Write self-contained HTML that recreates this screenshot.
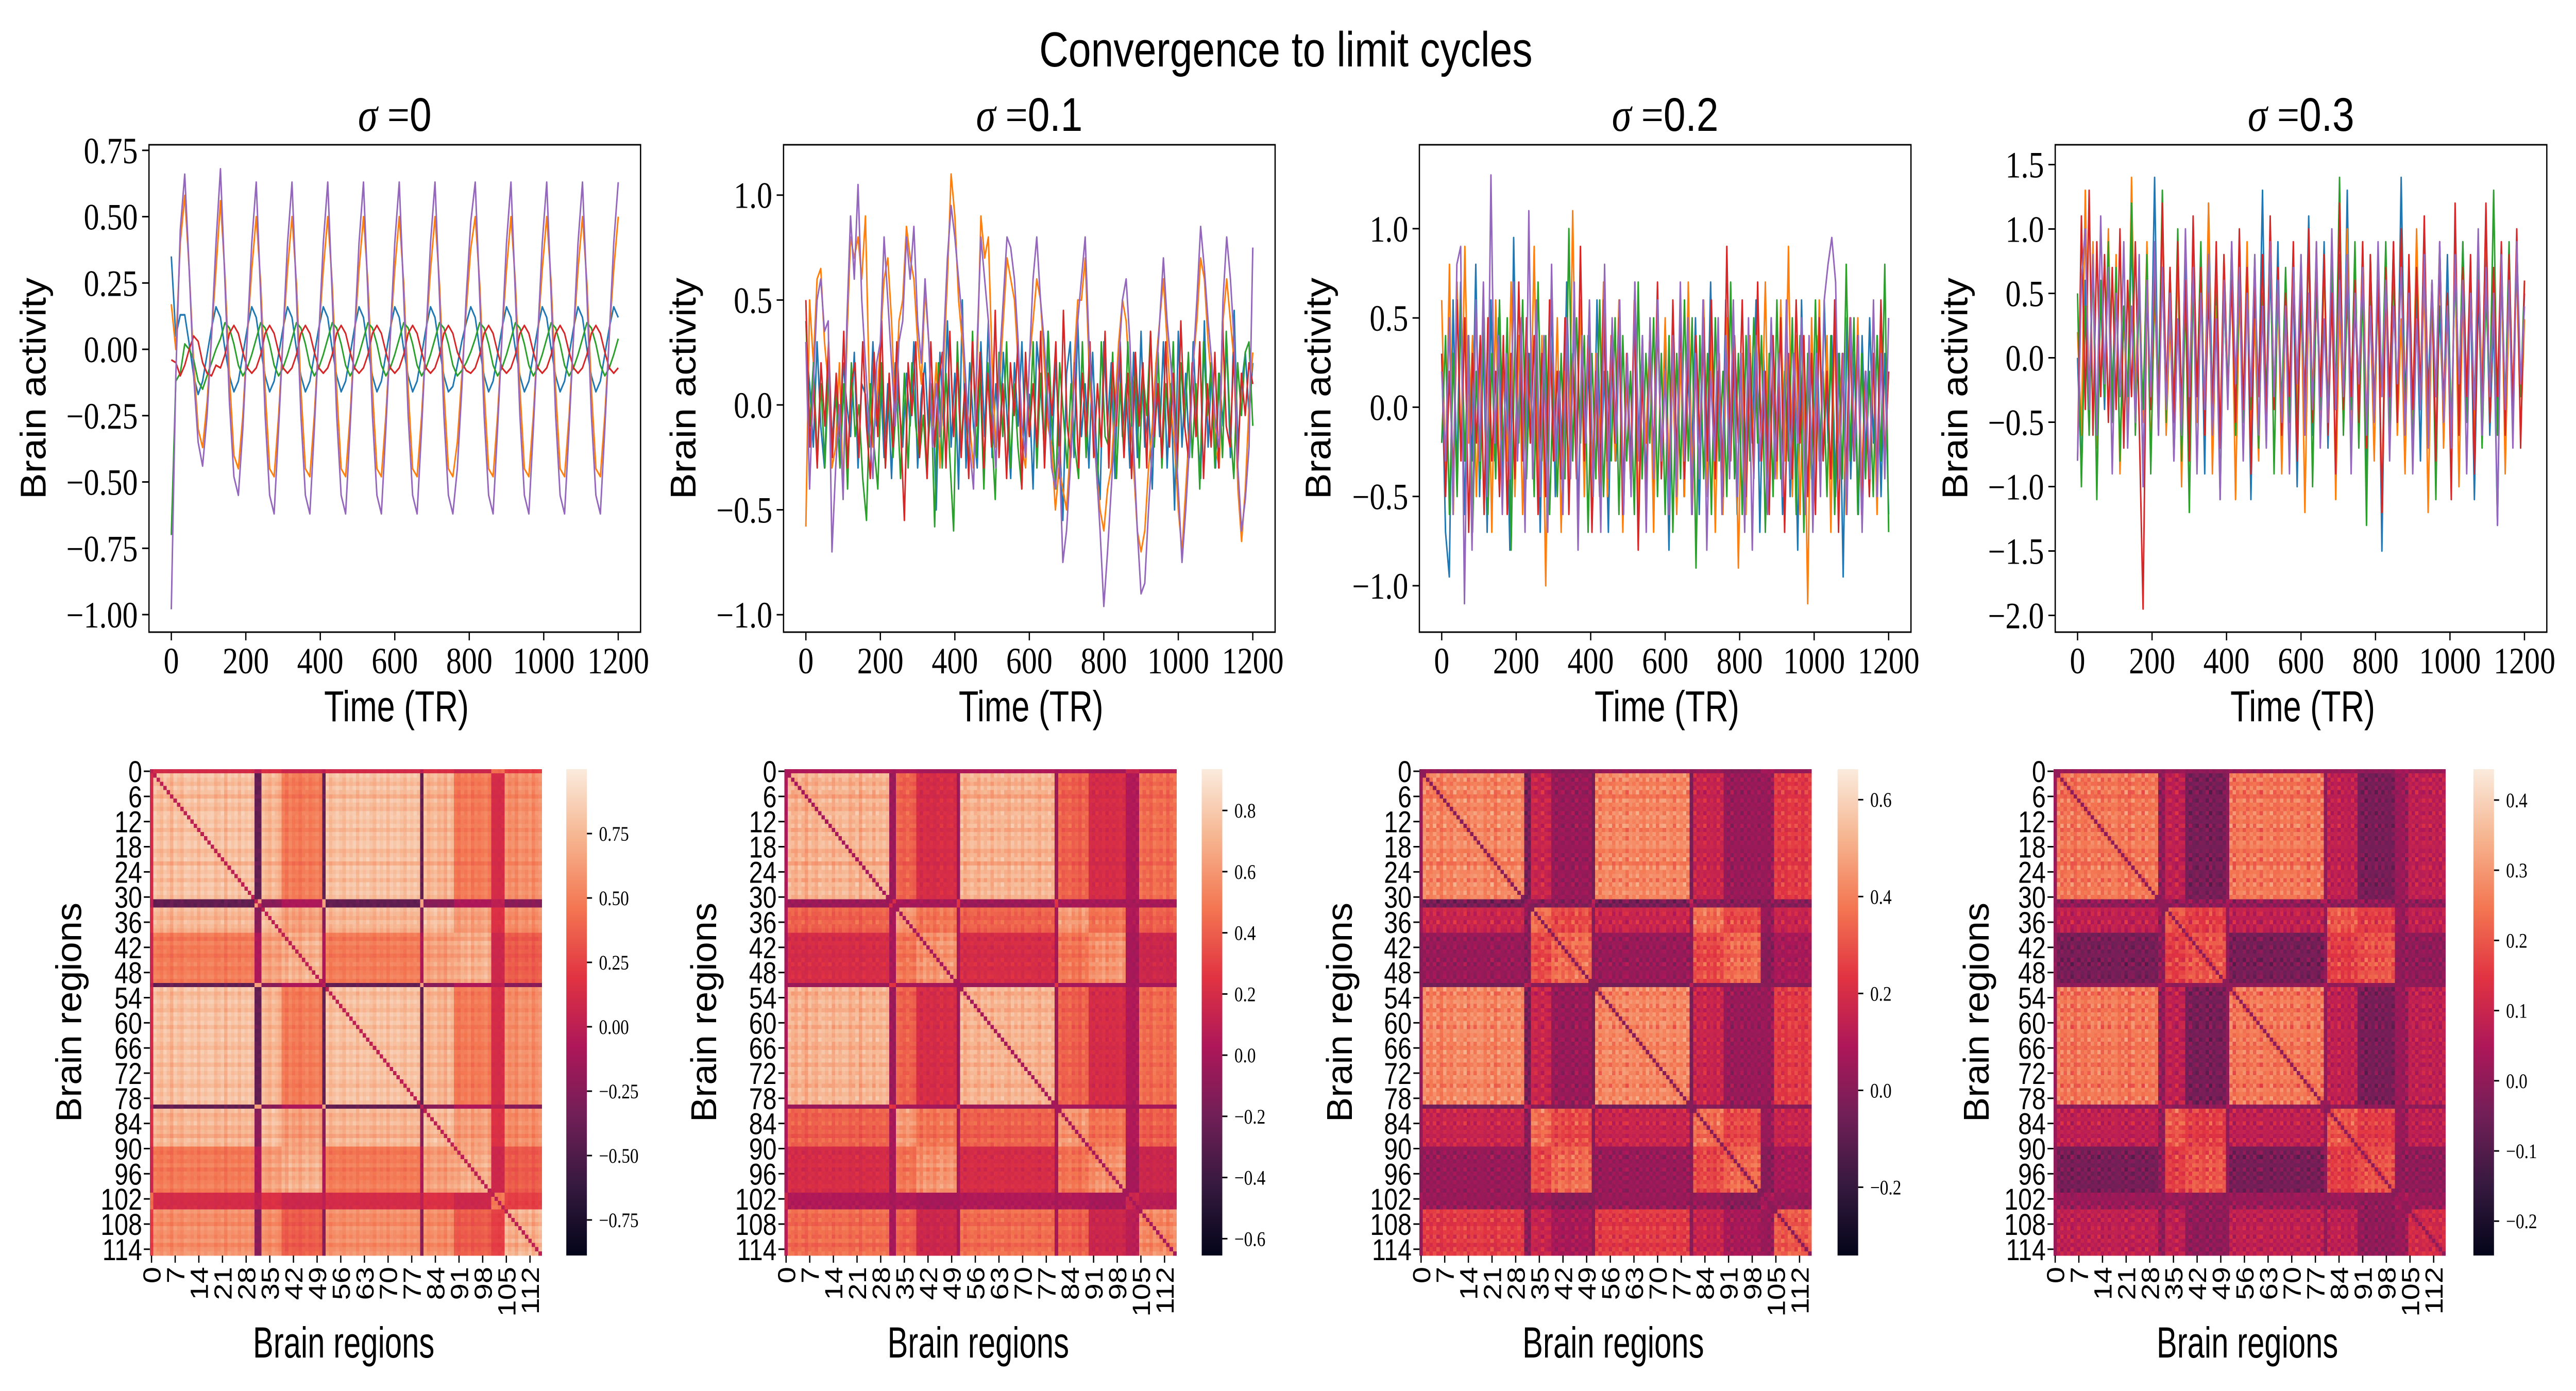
<!DOCTYPE html>
<html><head><meta charset="utf-8"><title>Convergence to limit cycles</title>
<style>html,body{margin:0;padding:0;background:#fff;overflow:hidden;width:100vw;height:100vh;}svg{display:block;width:100vw;height:100vh;}</style></head>
<body>
<svg id="fig" viewBox="0 0 6000 2700" preserveAspectRatio="none">
<rect x="0" y="0" width="6000" height="2700" fill="#fff"/>
<defs>
<linearGradient id="rocket" x1="0" y1="1" x2="0" y2="0">
<stop offset="0" stop-color="#03051a"/><stop offset="0.143" stop-color="#35193e"/><stop offset="0.286" stop-color="#701f57"/><stop offset="0.429" stop-color="#ad1759"/><stop offset="0.571" stop-color="#e13342"/><stop offset="0.714" stop-color="#f37651"/><stop offset="0.857" stop-color="#f6b48f"/><stop offset="1" stop-color="#faebdd"/>
</linearGradient>
</defs>
<text x="2995" y="129" font-family="Liberation Sans, sans-serif" font-size="96" text-anchor="middle" textLength="1149" lengthAdjust="spacingAndGlyphs">Convergence to limit cycles</text>
</svg>
<script>
// ---------- DATA ----------
const sigmaLabels = ["0","0.1","0.2","0.3"];
const timeTicks = [0,200,400,600,800,1000,1200];
const yTicks0 = [-1,-0.75,-0.5,-0.25,0,0.25,0.5,0.75];
const yTickLabels0 = ["\u22121.00","\u22120.75","\u22120.50","\u22120.25","0.00","0.25","0.50","0.75"];
const yTicks1 = [-1,-0.5,0,0.5,1];
const yTickLabels1 = ["\u22121.0","\u22120.5","0.0","0.5","1.0"];
const yTicks2 = [-1,-0.5,0,0.5,1];
const yTickLabels2 = ["\u22121.0","\u22120.5","0.0","0.5","1.0"];
const yTicks3 = [-2,-1.5,-1,-0.5,0,0.5,1,1.5];
const yTickLabels3 = ["\u22122.0","\u22121.5","\u22121.0","\u22120.5","0.0","0.5","1.0","1.5"];
const yLims = [[-1.066,0.771],[-1.083,1.24],[-1.26,1.47],[-2.13,1.654]];

const s0Blue = [35,5,13, 13,2,-10,-17,-12,-2,8,16, 12,0,-10,-16,-12,-2,8,16, 12,0,-10,-16,-12,-2,8,16, 12,0,-10,-16,-12,-2,8,16, 12,0,-10,-16,-12,-2,8,16, 12,0,-10,-16,-12,-2,8,16, 12,0,-10,-16,-12,-2,8,16, 12,0,-10,-16,-14,-6,3,10,16, 12,0,-10,-16,-12,-2,8,16, 12,0,-10,-16,-12,-2,8,16, 12,0,-10,-16,-12,-2,8,16, 12,0,-10,-16,-12,-2,8,16, 12];
const s0Orange = [17,0,40, 58,30,-5,-30,-37,-20,5,30, 56,28,-10,-40,-45,-25,5,30, 50,25,-15,-45,-48,-25,5,30, 50,25,-15,-45,-48,-25,5,30, 50,25,-15,-45,-48,-25,5,30, 50,25,-15,-45,-48,-25,5,30, 50,25,-15,-45,-48,-25,5,30, 50,25,-15,-45,-48,-35,-10,15,38, 50,25,-15,-45,-48,-25,5,30, 50,25,-15,-45,-48,-25,5,30, 50,25,-15,-45,-48,-25,5,30, 50,25,-15,-45,-48,-25,5,30, 50];
const s0Green = [-70,-12,-9, 2,0,-4,-12,-15,-10,-5,0, 4,10,8,2,-6,-10,-7,-2, 4,10,8,2,-6,-10,-7,-2, 4,10,8,2,-6,-10,-7,-2, 4,10,8,2,-6,-10,-7,-2, 4,10,8,2,-6,-10,-7,-2, 4,10,8,2,-6,-10,-7,-2, 4,10,8,2,-6,-10,-8,-5,-1, 4,10,8,2,-6,-10,-7,-2, 4,10,8,2,-6,-10,-7,-2, 4,10,8,2,-6,-10,-7,-2, 4,10,8,2,-6,-10,-7,-2, 4];
const s0Red = [-4,-5,-10, -6,0,5,3,-5,-9,-10,-6, -7,-2,6,9,6,-1,-7,-9, -7,-2,6,9,6,-1,-7,-9, -7,-2,6,9,6,-1,-7,-9, -7,-2,6,9,6,-1,-7,-9, -7,-2,6,9,6,-1,-7,-9, -7,-2,6,9,6,-1,-7,-9, -7,-2,6,9,6,-1,-5,-8,-9, -7,-2,6,9,6,-1,-7,-9, -7,-2,6,9,6,-1,-7,-9, -7,-2,6,9,6,-1,-7,-9, -7,-2,6,9,6,-1,-7,-9, -7];
const s0Purple = [-98,-10,45, 66,30,-10,-35,-44,-25,5,40, 68,25,-20,-48,-55,-30,5,40, 63,20,-25,-55,-62,-30,5,40, 63,20,-25,-55,-62,-30,5,40, 63,20,-25,-55,-62,-30,5,40, 63,20,-25,-55,-62,-30,5,40, 63,20,-25,-55,-62,-30,5,40, 63,20,-25,-55,-62,-45,-15,20,48, 63,20,-25,-55,-62,-30,5,40, 63,20,-25,-55,-62,-30,5,40, 63,20,-25,-55,-62,-30,5,40, 63,20,-25,-55,-62,-30,5,40, 63];

const s1Blue = [30,10,-20,30,-10,-30,20,-20,10,-25,20,0,-15,25,-30,10,5,-20,30,-10,15,-25,10,-35,20,0,-20,15,-10,30,-30,5,20,-15,10,-50,25,-10,40,-20,15,-40,50,-30,20,-10,-30,30,-15,40,-25,10,-20,25,-5,-35,20,-10,30,-20,5,-40,30,10,-20,35,-30,20,-10,-55,15,30,-25,40,-15,10,-30,25,-20,-45,30,-10,20,-35,30,-15,10,-30,25,-25,35,-20,0,-40,20,-15,30,-30,10,-50,35,-20,15,-25,30,-10,-35,40,-20,20,-30,15,-10,30,-25,45,-20,10,25,-5,20];
const s1Orange = [-58,50,20,60,65,30,10,-30,-20,20,-40,30,80,70,80,60,90,10,-20,0,30,60,70,40,-5,40,50,85,70,60,30,10,55,30,-10,20,-30,20,60,110,90,50,30,0,-10,-30,20,90,70,80,20,-20,10,40,70,60,50,20,-20,-30,20,40,60,50,20,-10,-20,-50,-30,-40,-50,-20,20,50,50,70,20,-10,-30,-50,-60,-40,-30,0,30,50,40,10,-30,-60,-70,-60,-30,-10,20,40,60,30,0,-20,-50,-70,-40,-10,20,40,70,60,30,10,-20,-30,40,60,40,20,-40,-65,-40,0,25];
const s1Green = [40,-10,20,-25,10,-30,15,-20,5,-30,10,-40,20,-15,0,-35,-55,10,-20,-40,20,-30,10,-25,5,-35,15,-30,20,-10,-25,-5,-35,10,-58,20,-30,15,-25,-60,30,-20,10,-30,35,-25,15,-40,20,-10,-45,25,-15,30,-30,10,-20,-40,20,-15,30,-30,15,-25,35,-10,-40,20,-5,-30,10,-20,-35,30,-25,20,-10,-40,30,-15,-20,25,-35,10,-25,30,-10,20,-30,15,-5,35,-20,25,-30,10,-15,30,-35,20,-10,25,-25,10,-40,30,-5,20,-30,15,-25,35,-10,-35,20,-5,25,30,-10];
const s1Red = [50,-20,10,-30,20,-10,30,-25,15,-15,35,-30,10,20,-25,30,-10,-35,25,-15,40,-30,15,-20,30,-10,-55,20,-5,30,-25,15,-35,30,-20,10,25,-30,35,-15,20,-25,10,-35,30,-10,25,-30,15,-20,45,-25,10,-35,20,-5,30,-40,25,-15,10,-20,35,-30,15,-5,30,-35,45,-10,-25,20,-30,15,-15,30,-25,10,-20,35,-30,20,-10,30,-25,15,-35,25,-10,20,-30,35,-15,10,-25,30,-20,15,-30,40,-10,-25,20,-15,30,-35,10,-20,25,-30,40,-10,-20,25,-30,15,-5,20,10];
const s1Purple = [30,-40,10,50,60,35,40,-70,-30,0,-45,40,90,60,105,50,20,-10,-35,20,30,80,50,20,-10,30,40,80,60,85,40,20,60,30,-20,10,-15,30,70,95,80,60,40,10,-20,-40,30,80,60,40,0,-30,20,50,80,75,60,30,-10,-25,20,60,80,50,30,0,-30,-40,-20,-75,-60,-30,10,40,60,80,30,0,-30,-60,-96,-70,-40,-10,20,50,60,30,-20,-60,-90,-85,-50,-20,10,40,70,40,20,-10,-40,-75,-50,-20,20,50,85,65,40,20,-10,-20,50,80,60,30,-30,-60,-45,-20,75];

const s2Blue = [30,-70,-95,60,-40,70,-60,20,-30,80,-50,40,-70,60,-30,50,-40,20,-80,95,-30,40,-60,30,-20,50,-70,40,-30,60,-50,20,-40,70,-30,50,-60,30,-20,40,-50,60,-30,20,-70,40,-30,50,-60,30,-40,70,-20,40,-50,30,-60,50,-30,40,-80,30,-40,60,-50,20,-30,50,-60,40,-30,70,-40,20,-50,60,-30,40,-60,30,-50,40,-20,60,-70,30,-40,50,-30,20,-60,40,-50,30,-80,60,-40,30,-50,40,-30,60,-20,40,-50,30,-95,50,-40,30,-60,40,-30,50,-20,40,-50,30,-60];
const s2Orange = [60,-40,80,-60,70,-30,90,-20,40,-50,30,-60,50,-70,60,-40,20,-30,70,-50,40,-60,30,-20,90,-50,40,-100,60,-30,50,-70,20,-40,110,-30,60,-50,40,-60,30,-20,70,-50,40,-30,60,-70,20,-40,50,-60,30,-20,40,-70,60,-30,50,-40,20,-60,30,-50,70,-40,30,-20,60,-50,40,-70,30,-60,50,-20,40,-90,30,-60,40,-30,50,-20,70,-50,30,-40,60,-30,90,-50,40,-60,30,-110,50,-40,60,-30,40,-70,50,-20,30,-60,40,-30,50,-40,20,-50,30,-60,40,-30,20];
const s2Green = [-20,40,-60,30,-50,60,-30,40,-70,20,-40,50,-60,30,-40,60,-30,50,-80,40,-20,60,-40,30,-50,70,-30,40,-60,20,-50,30,-40,100,-30,50,-20,40,-70,30,-40,60,-50,20,-30,50,-60,40,-30,20,-60,70,-40,30,-20,50,-50,30,-60,40,-70,30,-40,60,-30,50,-90,40,-40,30,-60,50,-30,20,-50,70,-40,30,-60,40,-30,50,-20,40,-70,30,-50,60,-40,20,-30,50,-60,40,-70,30,-40,60,-30,20,-50,40,-60,30,-40,80,-30,50,-60,30,-40,20,-50,40,-30,80,-70];
const s2Red = [30,-50,20,-40,60,-30,50,-70,30,-20,40,-60,50,-30,20,-50,40,-60,30,-40,70,-30,50,-20,40,-60,30,-50,60,-30,20,-40,50,-60,30,-40,90,-30,40,-70,20,-50,60,-30,40,-20,50,-60,30,-40,60,-80,20,-50,40,-30,70,-40,20,-50,60,-30,50,-40,30,-60,40,-20,50,-30,60,-40,30,-50,90,-30,40,-20,60,-50,30,-40,70,-30,20,-60,40,-30,50,-70,30,-40,60,-20,40,-50,30,-60,50,-30,20,-40,60,-70,30,-40,50,-30,40,-60,20,-50,30,-40,60,-30,20];
const s2Purple = [20,-30,50,-60,80,90,-110,40,-80,60,-30,70,-50,130,-20,40,-60,30,-40,70,-30,50,-70,110,-40,60,-50,40,-70,80,-30,20,-60,50,-40,70,-80,40,-20,60,-50,30,-70,80,-40,50,-20,60,-60,30,-50,70,-30,40,-70,50,-40,60,-30,20,-60,40,-50,70,-30,50,-60,30,-40,60,-80,20,-30,50,-60,40,-40,60,-50,30,-70,50,-80,40,-30,20,-60,50,-40,30,-50,60,-40,30,-20,50,-60,40,-70,30,-50,60,80,95,70,-40,30,-60,50,-30,40,-70,20,-40,60,-50,30,-40,50];

const s3Blue = [0,-90,60,-30,80,-70,50,-40,90,-30,70,-80,40,-60,100,-40,60,-90,50,-30,140,-50,70,-40,60,-80,30,-50,90,-60,100,-30,70,-90,120,-40,60,-70,50,-30,80,-60,90,-40,70,-110,50,-30,130,-60,70,-40,90,-80,50,-30,60,-100,80,-40,110,-60,50,-30,90,-70,60,-40,80,-50,130,-60,40,-30,80,-90,50,-40,70,-150,60,-30,90,-50,140,-40,70,-60,50,-80,90,-30,60,-70,40,-50,80,-60,70,-40,90,-30,60,-110,50,-40,80,-60,30,-130,70,-40,60,-50,90,-30,50];
const s3Orange = [20,-60,130,-40,90,-70,60,-30,100,-50,80,-90,40,-60,140,-30,70,-50,90,-80,50,-40,110,-60,30,-70,80,-100,60,-30,90,-50,70,-40,120,-90,40,-60,80,-30,70,-110,50,-40,90,-60,30,-80,70,-50,100,-30,60,-90,40,-70,80,-40,60,-120,50,-30,90,-60,70,-40,80,-110,40,-50,100,-70,60,-30,90,-50,40,-80,70,-120,50,-40,80,-60,30,-90,70,-50,100,-40,60,-120,50,-30,90,-70,40,-60,80,-100,50,-40,70,-60,90,-30,110,-50,60,-40,80,-90,50,-30,70,-60,30];
const s3Green = [50,-100,40,-60,80,-110,60,-30,90,-50,70,-80,40,-30,120,-60,50,-40,80,-90,60,-30,130,-50,70,-40,100,-80,50,-120,60,-30,90,-60,70,-40,80,-110,50,-30,90,-60,70,-50,60,-40,80,-70,50,-30,100,-90,60,-40,70,-50,80,-60,40,-30,90,-100,60,-40,80,-50,70,-30,140,-60,50,-40,90,-70,60,-130,80,-40,50,-30,90,-60,70,-50,100,-40,60,-80,70,-30,90,-50,60,-110,80,-40,50,-60,70,-30,90,-50,60,-40,80,-70,50,-30,130,-60,70,-40,90,-50,80,-30,60];
const s3Red = [-80,110,-40,130,-60,90,-30,80,-50,70,-40,100,-70,60,-30,90,-50,-195,60,-40,80,-60,120,-30,70,-50,90,-40,60,-80,110,-30,70,-60,50,-40,90,-70,80,-30,60,-50,100,-40,70,-90,60,-30,80,-50,110,-40,70,-60,50,-30,90,-80,60,-40,100,-50,70,-30,80,-60,50,-90,120,-40,70,-30,60,-50,90,-70,80,-40,60,-120,70,-30,90,-50,100,-60,80,-40,70,-30,110,-50,60,-80,90,-40,50,-110,120,-60,70,-30,80,-90,60,-40,120,-50,70,-30,90,-60,80,-40,100,-70,60];
const s3Purple = [-80,60,100,-40,80,-60,110,-20,70,-90,50,-30,90,-70,40,-50,80,-100,60,-30,90,-60,70,-40,50,-80,30,-60,100,-30,70,-90,50,-40,80,-60,30,-110,60,-40,90,-20,70,-80,50,-30,80,-60,40,-70,90,-30,60,-50,40,-90,70,-20,80,-60,50,-40,90,-70,30,-50,100,-40,60,-30,80,-90,50,-20,70,-60,40,-50,90,-30,60,-80,40,-20,70,-60,50,-90,30,-40,80,-70,60,-30,90,-50,40,-70,80,-20,60,-90,50,-40,100,-60,70,-30,50,-130,80,-40,60,-70,90,-20,40];

const regionGroup = [
5,0,0,0,0,0,0,0,0,0, 0,0,0,0,0,0,0,0,0,0, 0,0,0,0,0,0,0,0,0,0,
0,4,4,1,1,1,1,1,1,2, 2,2,2,2,2,2,2,2,2,2, 2,4,0,0,0,0,0,0,0,0,
0,0,0,0,0,0,0,0,0,0, 0,0,0,0,0,0,0,0,0,0, 4,1,1,1,1,1,1,1,1,1,
2,2,2,2,2,2,2,2,2,2, 2,5,5,5,5,3,3,3,3,3, 3,3,3,3,3,3];
const regionWeight = [
.80,.95,.90,.85,.95,.90,.80,.95,.90,.85, .95,.95,.90,.95,.85,.95,.90,.95,.95,.85,
.90,.95,.80,.95,.90,.95,.85,.95,.90,.95, .90,.90,.90,.95,.90,.85,.95,.90,.85,.90,
.80,.95,.85,.90,.80,.90,.95,.85,.90,.95, .85,.90,.95,.85,.90,.95,.90,.85,.95,.90,
.95,.85,.95,.90,.95,.90,.85,.95,.90,.95, .85,.95,.90,.95,.90,.85,.95,.90,.95,.90,
.90,.95,.85,.90,.95,.85,.90,.80,.95,.90, .85,.80,.90,.85,.95,.80,.90,.85,.90,.95,
.85,.90,.90,.85,.90,.95,.85,.90,.80,.95, .90,.85,.95,.80,.90,.95];
const regionTexture = [
.2,-.5,.8,-.3,.6,-.9,.1,.7,-.4,.3, -.8,.5,-.1,.9,-.6,.2,-.7,.4,0,-.3,
.6,-.9,.3,.8,-.2,-.5,.7,-.8,.1,.5, -.4,.9,-.6,.2,.7,-.1,-.9,.4,.6,-.3,
.8,-.2,-.7,.5,.1,-.8,.9,-.4,.3,.6, -.5,.2,.7,-.9,.4,-.1,.8,-.6,.3,-.7,
.5,.9,-.3,.1,-.8,.6,-.2,.7,-.5,.4, -.6,.3,.8,-.4,.2,-.9,.5,.1,-.7,.9,
.3,-.8,.6,-.1,.9,-.5,.2,-.3,.7,-.6, .1,.7,-.9,.4,-.2,.8,-.5,.6,-.4,.2,
-.7,.4,.1,-.6,.9,-.3,.5,-.8,.2,.6, -.1,.8,-.5,.3,-.7,.4];
const groupCorr0 = [[.95,.9,.6,.7,-.5,.15],[.9,.95,.8,.7,-.3,.2],[.6,.8,.9,.45,-.1,.1],[.7,.7,.45,.9,-.3,.3],[-.5,-.3,-.1,-.3,.8,0],[.15,.2,.1,.3,0,.6]];
const groupCorr1 = [[.85,.5,.25,.55,-.05,.05],[.5,.75,.6,.5,0,.05],[.25,.6,.75,.2,0,0],[.55,.5,.2,.7,0,.1],[-.05,0,0,0,.3,0],[.05,.05,0,.1,0,.2]];
const groupCorr2 = [[.5,.2,.05,.3,-.05,.05],[.2,.45,.35,.2,0,.05],[.05,.35,.45,.1,0,0],[.3,.2,.1,.4,0,.05],[-.05,0,0,0,.15,0],[.05,.05,0,.05,0,.1]];
const groupCorr3 = [[.3,.1,-.05,.1,0,.02],[.1,.25,.2,.1,0,.02],[-.05,.2,.25,0,0,0],[.1,.1,0,.15,0,.02],[0,0,0,0,.05,0],[.02,.02,0,.02,0,.05]];
const textureAmp = [0.03,0.06,0.1,0.08];
const cbRanges = [[-0.888,1.0],[-0.655,0.935],[-0.341,0.663],[-0.249,0.444]];
const cbTicks0 = [-0.75,-0.5,-0.25,0,0.25,0.5,0.75];
const cbTickLabels0 = ["\u22120.75","\u22120.50","\u22120.25","0.00","0.25","0.50","0.75"];
const cbTicks1 = [-0.6,-0.4,-0.2,0,0.2,0.4,0.6,0.8];
const cbTickLabels1 = ["\u22120.6","\u22120.4","\u22120.2","0.0","0.2","0.4","0.6","0.8"];
const cbTicks2 = [-0.2,0,0.2,0.4,0.6];
const cbTickLabels2 = ["\u22120.2","0.0","0.2","0.4","0.6"];
const cbTicks3 = [-0.2,-0.1,0,0.1,0.2,0.3,0.4];
const cbTickLabels3 = ["\u22120.2","\u22120.1","0.0","0.1","0.2","0.3","0.4"];

// ---------- LAYOUT ----------
const svg = document.getElementById('fig');
const NS = svg.namespaceURI;
function mk(tag, attrs, parent){ const e=document.createElementNS(NS,tag); for(const k in attrs) e.setAttribute(k,attrs[k]); parent.appendChild(e); return e; }
const SERIF="Liberation Serif, DejaVu Serif, serif", SANS="Liberation Sans, DejaVu Sans, sans-serif";
const colors=["#1f77b4","#ff7f0e","#2ca02c","#d62728","#9467bd"];
const seriesNames=["blue","orange","green","red","purple"];
const allSeries=[[s0Blue,s0Orange,s0Green,s0Red,s0Purple],[s1Blue,s1Orange,s1Green,s1Red,s1Purple],[s2Blue,s2Orange,s2Green,s2Red,s2Purple],[s3Blue,s3Orange,s3Green,s3Red,s3Purple]];
const allYTicks=[yTicks0,yTicks1,yTicks2,yTicks3], allYTickLabels=[yTickLabels0,yTickLabels1,yTickLabels2,yTickLabels3];
const topL=[347,1825,3306,4787], TW=1145, TT=281, TB=1227;
const yLabOff=[241,205,207,205];

for(let p=0;p<4;p++){
  const L=topL[p];
  const g=mk('g',{},svg);
  
  
  const xs=t=>L+(t+60)/1320*TW;
  const ys=v=>TT+(yLims[p][1]-v)/(yLims[p][1]-yLims[p][0])*(TB-TT);
  const cp=mk('clipPath',{id:'clip'+p},g);
  mk('rect',{x:L,y:TT,width:TW,height:TB-TT},cp);
  const lg=mk('g',{'clip-path':'url(#clip'+p+')'},g);
  allSeries[p].forEach((arr,si)=>{
    const n=arr.length;
    const pts=arr.map((v,i)=>xs(i*1200/(n-1)).toFixed(1)+','+ys(v/100).toFixed(1)).join(' ');
    const pl=mk('polyline',{points:pts,fill:'none',stroke:colors[si],'stroke-width':3.5,'stroke-linejoin':'round'},lg);
    
    
  });
  const fr=mk('rect',{x:L,y:TT,width:TW,height:TB-TT,fill:'none',stroke:'#000','stroke-width':3},g);
  
  
  timeTicks.forEach(t=>{
    const x=xs(t);
    const tk=mk('line',{x1:x,y1:TB,x2:x,y2:TB+16,stroke:'#000','stroke-width':3},g);
    
    
    const tl=mk('text',{x:x,y:1307,'font-family':SERIF,'font-size':72,'text-anchor':'middle'},g);
    tl.textContent=String(t);
    
    
  });
  allYTicks[p].forEach((v,k)=>{
    const y=ys(v);
    const tk=mk('line',{x1:L-16,y1:y,x2:L,y2:y,stroke:'#000','stroke-width':3},g);
    
    
    const tl=mk('text',{x:L-26,y:y+25,'font-family':SERIF,'font-size':72,'text-anchor':'end'},g);
    tl.textContent=allYTickLabels[p][k];
    
    
  });
  const tt=mk('text',{x:L+TW/2,y:254,'font-size':92,'text-anchor':'middle','font-family':SANS},g);
  const t1=mk('tspan',{'font-family':SERIF,'font-style':'italic'},tt); t1.textContent='\u03c3';
  const t2=mk('tspan',{'font-family':SERIF},tt); t2.textContent=' =';
  const t3=mk('tspan',{'font-family':SANS},tt); t3.textContent=sigmaLabels[p];
  
  
  const yl=mk('text',{x:0,y:0,transform:'translate('+(L-yLabOff[p])+','+((TT+TB)/2)+') rotate(-90)','font-family':SANS,'font-size':84,'text-anchor':'middle',textLength:430,lengthAdjust:'spacingAndGlyphs'},g);
  yl.textContent='Brain activity';
  
  
  const xl=mk('text',{x:L+TW/2+4,y:1400,'font-family':SANS,'font-size':84,'text-anchor':'middle',textLength:337,lengthAdjust:'spacingAndGlyphs'},g);
  xl.textContent='Time (TR)';
  
  
}

// ---------- HEATMAPS ----------
const stops=[[0,[3,5,26]],[0.143,[53,25,62]],[0.286,[112,31,87]],[0.429,[173,23,89]],[0.571,[225,51,66]],[0.714,[243,118,81]],[0.857,[246,180,143]],[1,[250,235,221]]];
function rocket(f){
  f=Math.max(0,Math.min(1,f));
  for(let i=1;i<stops.length;i++){
    if(f<=stops[i][0]){
      const a=stops[i-1],b=stops[i],u=(f-a[0])/(b[0]-a[0]);
      const c=a[1].map((x,k)=>Math.round(x+(b[1][k]-x)*u));
      return 'rgb('+c.join(',')+')';
    }
  }
  return 'rgb(250,235,221)';
}
const groupCorrs=[groupCorr0,groupCorr1,groupCorr2,groupCorr3];
const allCbTicks=[cbTicks0,cbTicks1,cbTicks2,cbTicks3], allCbTickLabels=[cbTickLabels0,cbTickLabels1,cbTickLabels2,cbTickLabels3];
const HL=[349,1827,3306,4783], HW=913, HT=1493, HH=944;
const CBL=[1319,2799,4280,5761], CBW=48;
const hyLabOff=[160,159,157,151];
const N=regionGroup.length;
for(let p=0;p<4;p++){
  const L=HL[p], cw=HW/N, ch=HH/N, HB=HT+HH;
  const g=mk('g',{},svg);
  
  
  const cg=mk('g',{'shape-rendering':'crispEdges'},g);
  const G=groupCorrs[p], [vmin,vmax]=cbRanges[p];
  for(let i=0;i<N;i++){
    for(let j=0;j<N;j++){
      let v = (i===j) ? 0 : G[regionGroup[i]][regionGroup[j]]*regionWeight[i]*regionWeight[j] + textureAmp[p]*regionTexture[i]*regionTexture[j];
      const r=mk('rect',{x:(L+j*cw).toFixed(2),y:(HT+i*ch).toFixed(2),width:(cw+0.6).toFixed(2),height:(ch+0.6).toFixed(2),fill:rocket((v-vmin)/(vmax-vmin))},cg);
      
      
    }
  }
  for(let k=0;k<N;k+=6){
    const y=HT+(k+0.5)*ch;
    const tk=mk('line',{x1:L-14,y1:y,x2:L,y2:y,stroke:'#000','stroke-width':3},g);
    
    
    const tl=mk('text',{x:L-18,y:y+21,'font-family':SANS,'font-size':58,'text-anchor':'end'},g);
    tl.textContent=String(k);
    
    
  }
  for(let k=0;k<N;k+=7){
    const x=L+(k+0.5)*cw;
    const tk=mk('line',{x1:x,y1:HB,x2:x,y2:HB+14,stroke:'#000','stroke-width':3},g);
    
    
    const tl=mk('text',{x:0,y:0,transform:'translate('+(x+21)+','+(HB+22)+') rotate(-90)','font-family':SANS,'font-size':58,'text-anchor':'end'},g);
    tl.textContent=String(k);
    
    
  }
  const xl=mk('text',{x:L+HW/2-5,y:2635,'font-family':SANS,'font-size':84,'text-anchor':'middle',textLength:423,lengthAdjust:'spacingAndGlyphs'},g);
  xl.textContent='Brain regions';
  
  
  const yl=mk('text',{x:0,y:0,transform:'translate('+(L-hyLabOff[p])+','+(HT+HH/2)+') rotate(-90)','font-family':SANS,'font-size':84,'text-anchor':'middle',textLength:426,lengthAdjust:'spacingAndGlyphs'},g);
  yl.textContent='Brain regions';
  
  
  const CL=CBL[p];
  const cb=mk('rect',{x:CL,y:HT,width:CBW,height:HH,fill:'url(#rocket)'},g);
  
  
  const cys=v=>HT+(vmax-v)/(vmax-vmin)*HH;
  allCbTicks[p].forEach((v,k)=>{
    const y=cys(v);
    const tk=mk('line',{x1:CL+CBW,y1:y,x2:CL+CBW+12,y2:y,stroke:'#000','stroke-width':3},g);
    
    
    const tl=mk('text',{x:CL+CBW+28,y:y+14,'font-family':SERIF,'font-size':40},g);
    tl.textContent=allCbTickLabels[p][k];
    
    
  });
}
</script>
</body></html>
